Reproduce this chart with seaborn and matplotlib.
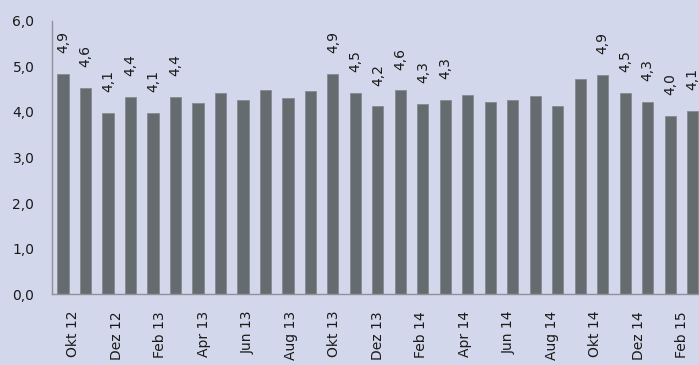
import matplotlib
matplotlib.use("Agg")
import matplotlib.pyplot as plt
import seaborn as sns
import numpy as np

months = ["Okt 12", "Nov 12", "Dez 12", "Jan 13", "Feb 13", "Mar 13", "Apr 13", "Mai 13",
          "Jun 13", "Jul 13", "Aug 13", "Sep 13", "Okt 13", "Nov 13", "Dez 13", "Jan 14",
          "Feb 14", "Mrz 14", "Apr 14", "Mai 14", "Jun 14", "Jul 14", "Aug 14", "Sep 14",
          "Okt 14", "Nov 14", "Dez 14", "Jan 15", "Feb 15"]
values = [4.84, 4.52, 3.98, 4.32, 3.98, 4.32, 4.20, 4.41, 4.26, 4.49, 4.30, 4.46, 4.84,
          4.41, 4.12, 4.47, 4.18, 4.26, 4.37, 4.22, 4.26, 4.35, 4.13, 4.72, 4.81, 4.41,
          4.22, 3.91, 4.02]
bar_labels = ["4,9", "4,6", "4,1", "4,4", "4,1", "4,4", "", "", "", "", "", "", "4,9",
              "4,5", "4,2", "4,6", "4,3", "4,3", "", "", "", "", "", "", "4,9", "4,5",
              "4,3", "4,0", "4,1"]
axis_labels = ["Okt 12", "Dez 12", "Feb 13", "Apr 13", "Jun 13", "Aug 13", "Okt 13",
               "Dez 13", "Feb 14", "Apr 14", "Jun 14", "Aug 14", "Okt 14", "Dez 14", "Feb 15"]
y_ticks = [0, 1, 2, 3, 4, 5, 6]

BG = "#D3D7EB"
BAR = "#656C6F"
AXC = "#8E9297"

sns.set_style("white")
plt.rcParams["font.family"] = ["DejaVu Sans"]

fig = plt.figure(figsize=(6.99, 3.65), dpi=100, facecolor=BG)
ax = fig.add_axes([0.0740, 0.1937, 0.9331, 0.7496])
ax.set_facecolor(BG)

sns.barplot(x=months, y=values, order=months, color=BAR, width=0.5,
            edgecolor="#858B90", linewidth=0.6, saturation=1, ax=ax)

n = len(months)
ax.set_xlim(-0.5, n - 0.5)
ax.set_ylim(0, 6)

for i, (v, lab) in enumerate(zip(values, bar_labels)):
    if lab:
        ax.annotate(lab, (i, v), xytext=(0, 15), textcoords="offset points",
                    rotation=90, ha="center", va="bottom", fontsize=10, color="#1a1a1a")

slots = len(axis_labels)
step = n / slots
major = [-0.5 + k * step for k in range(slots + 1)]
minor = [-0.5 + (k + 0.5) * step for k in range(slots)]
ax.set_xticks(major)
ax.set_xticklabels([""] * len(major))
ax.set_xticks(minor, minor=True)
ax.set_xticklabels(axis_labels, minor=True, rotation=90, fontsize=10, color="#1a1a1a")
ax.tick_params(axis="x", which="major", length=5, width=1, color=AXC, direction="out")
ax.tick_params(axis="x", which="minor", length=0, pad=12)

ax.set_yticks(y_ticks)
ax.set_yticklabels([f"{t:.1f}".replace(".", ",") for t in y_ticks], fontsize=10, color="#1a1a1a")
ax.tick_params(axis="y", length=5.5, width=1, color=AXC, pad=7, direction="out")

for s in ["top", "right"]:
    ax.spines[s].set_visible(False)
for s in ["left", "bottom"]:
    ax.spines[s].set_color(AXC)
    ax.spines[s].set_linewidth(1)
ax.set_xlabel("")
ax.set_ylabel("")

fig.savefig("out.png", dpi=100, facecolor=BG)
